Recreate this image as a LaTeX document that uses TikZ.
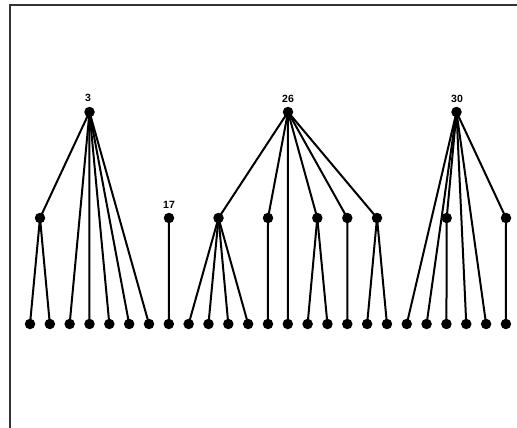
\documentclass[tikz,border=0pt]{standalone}
\usepackage{fontspec}
\setmainfont{Liberation Sans}
\begin{document}
\begin{tikzpicture}[x=1pt,y=-1pt,
  dot/.style={circle,fill=black,inner sep=0pt,minimum size=10.5pt},
  edge/.style={line width=2pt,black},
  lbl/.style={font=\fontsize{10.5}{12}\selectfont\bfseries,inner sep=0pt,anchor=center},
  frame/.style={line width=2pt,draw=black!80}]
\useasboundingbox (0,0) rectangle (517,428);
\draw[frame] (9.5,430) -- (9.5,5.5) -- (520,5.5);
% leaves
\foreach \i in {0,...,24} {
  \node[dot] (L\i) at ({30+19.83*\i},324) {};
}
% middle nodes
\node[dot] (m3a) at (40,218) {};
\node[dot] (n17) at (169,218) {};
\node[dot] (m26a) at (218.5,218) {};
\node[dot] (m26b) at (268,218) {};
\node[dot] (m26c) at (317.3,218) {};
\node[dot] (m26d) at (347.3,218) {};
\node[dot] (m26e) at (377,218) {};
\node[dot] (m30a) at (446.7,218) {};
\node[dot] (m30b) at (506,218) {};
% roots
\node[dot] (r3) at (89.5,112) {};
\node[dot] (r26) at (288,112) {};
\node[dot] (r30) at (456.5,112) {};
% labels
\node[lbl] (t3) at (88,98) {3};
\node[lbl] (t26) at (288,98.5) {26};
\node[lbl] (t30) at (457,98.5) {30};
\node[lbl] (t17) at (169,205) {17};
% edges
\foreach \c in {m3a,L2,L3,L4,L5,L6} \draw[edge] (r3.center) -- (\c.center);
\foreach \c in {L0,L1} \draw[edge] (m3a.center) -- (\c.center);
\draw[edge] (n17.center) -- (L7.center);
\foreach \c in {m26a,m26b,L13,m26c,m26d,m26e} \draw[edge] (r26.center) -- (\c.center);
\foreach \c in {L8,L9,L10,L11} \draw[edge] (m26a.center) -- (\c.center);
\draw[edge] (m26b.center) -- (L12.center);
\foreach \c in {L14,L15} \draw[edge] (m26c.center) -- (\c.center);
\draw[edge] (m26d.center) -- (L16.center);
\foreach \c in {L17,L18} \draw[edge] (m26e.center) -- (\c.center);
\foreach \c in {L19,L20,m30a,L22,L23,m30b} \draw[edge] (r30.center) -- (\c.center);
\draw[edge] (m30a.center) -- (L21.center);
\draw[edge] (m30b.center) -- (L24.center);
\end{tikzpicture}
\end{document}
